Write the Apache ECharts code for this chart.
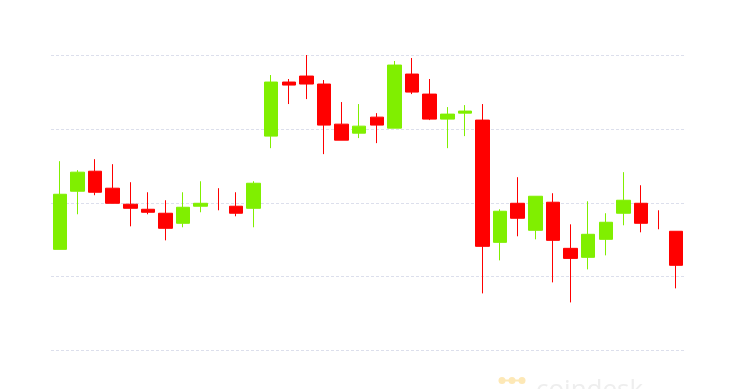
<!DOCTYPE html>
<html>
<head>
<meta charset="utf-8">
<script src="https://cdn.jsdelivr.net/npm/echarts@6/dist/echarts.min.js"></script>
<style>
html,body{margin:0;padding:0;background:#fff;}
#chart{width:745px;height:389px;}
</style>
</head>
<body>
<div id="chart"></div>
<script>
// Candle index labels (no visible axis labels on the reference)
var categories = ['1','2','3','4','5','6','7','8','9','10','11','12','13','14','15','16','17','18',
  '19','20','21','22','23','24','25','26','27','28','29','30','31','32','33','34','35','36'];
// Each candle: open, close, low, high
var opens  = [136.9,215.6,242.7,219.7,198.0,191.2,185.8,172.2,195.3,199.3,195.3,192.5,290.2,363.4,371.5,360.7,306.4,294.2,
              315.9,301.0,374.2,347.1,313.2,321.3,311.9,146.4,199.3,162.7,200.7,138.3,126.1,150.5,185.8,199.3,183.0,161.4];
var closes = [211.5,241.4,214.2,199.3,192.5,187.1,165.4,193.9,199.3,198.0,185.8,226.4,363.4,359.3,360.7,305.1,284.7,303.7,
              305.1,386.4,349.8,313.2,320.0,324.1,141.0,188.5,179.0,208.8,149.1,124.7,157.3,173.6,203.4,172.2,181.7,115.3];
var lows   = [136.9,184.4,210.2,199.3,168.1,184.4,149.1,166.8,187.1,189.8,181.7,166.8,273.9,333.6,340.3,265.8,284.7,287.5,
              280.7,301.0,347.1,311.9,273.9,290.2,77.3,122.0,154.6,150.5,92.2,65.1,109.8,128.8,169.5,160.0,164.1,84.1];
var highs  = [256.3,244.1,259.0,252.2,227.8,214.2,203.4,214.2,229.1,219.7,214.2,229.1,372.9,367.5,400.0,366.1,336.3,333.6,
              321.3,391.9,395.9,367.5,329.5,332.2,333.6,191.2,234.6,208.8,212.9,170.8,202.0,185.8,241.4,223.7,189.8,161.4];
// Candles whose body is too thin to show (drawn as a bare wick)
var dojiIndex = [9, 34];
// y-axis gridline levels
var yTicks = [0,100,200,300,400];

var candles = categories.map(function(c,i){
  return dojiIndex.indexOf(i) >= 0 ? '-' : [opens[i], closes[i], lows[i], highs[i]];
});
var dojis = categories.map(function(c,i){
  return dojiIndex.indexOf(i) >= 0 ? [opens[i], closes[i], lows[i], highs[i]] : '-';
});

var chart = echarts.init(document.getElementById('chart'), null, {renderer:'canvas'});
chart.setOption({
  animation:false,
  backgroundColor:'#ffffff',
  grid:{left:51, top:55, width:634, height:295.5, containLabel:false},
  xAxis:{
    type:'category', data:categories, boundaryGap:true,
    axisLine:{show:false}, axisTick:{show:false}, axisLabel:{show:false}, splitLine:{show:false}
  },
  yAxis:{
    type:'value', min:yTicks[0], max:yTicks[yTicks.length-1], interval:100,
    axisLine:{show:false}, axisTick:{show:false}, axisLabel:{show:false},
    splitLine:{show:true, lineStyle:{color:'#dcdfec', width:1, type:[3,2]}}
  },
  graphic:[
    {type:'line', z:-1, shape:{x1:502,y1:380.5,x2:522,y2:380.5}, style:{stroke:'#fde8b6', lineWidth:2}},
    {type:'circle', z:-1, shape:{cx:502,cy:380.5,r:3.5}, style:{fill:'#fde8b6'}},
    {type:'circle', z:-1, shape:{cx:512,cy:380.5,r:3.5}, style:{fill:'#fde8b6'}},
    {type:'circle', z:-1, shape:{cx:522,cy:380.5,r:3.5}, style:{fill:'#fde8b6'}},
    {type:'text', z:-1, left:536, top:378, style:{text:'coindesk', fill:'#eeeeee', font:'500 26px "Open Sans", sans-serif'}}
  ],
  series:[{
    type:'candlestick',
    data:candles,
    barWidth:14,
    itemStyle:{
      color:'#80ef00', color0:'#ff0000',
      borderColor:'#80ef00', borderColor0:'#ff0000', borderWidth:1
    }
  },{
    type:'candlestick',
    data:dojis,
    barWidth:1,
    itemStyle:{
      color:'#80ef00', color0:'#ff0000',
      borderColor:'#80ef00', borderColor0:'#ff0000', borderWidth:1
    }
  }]
});
</script>
</body>
</html>
